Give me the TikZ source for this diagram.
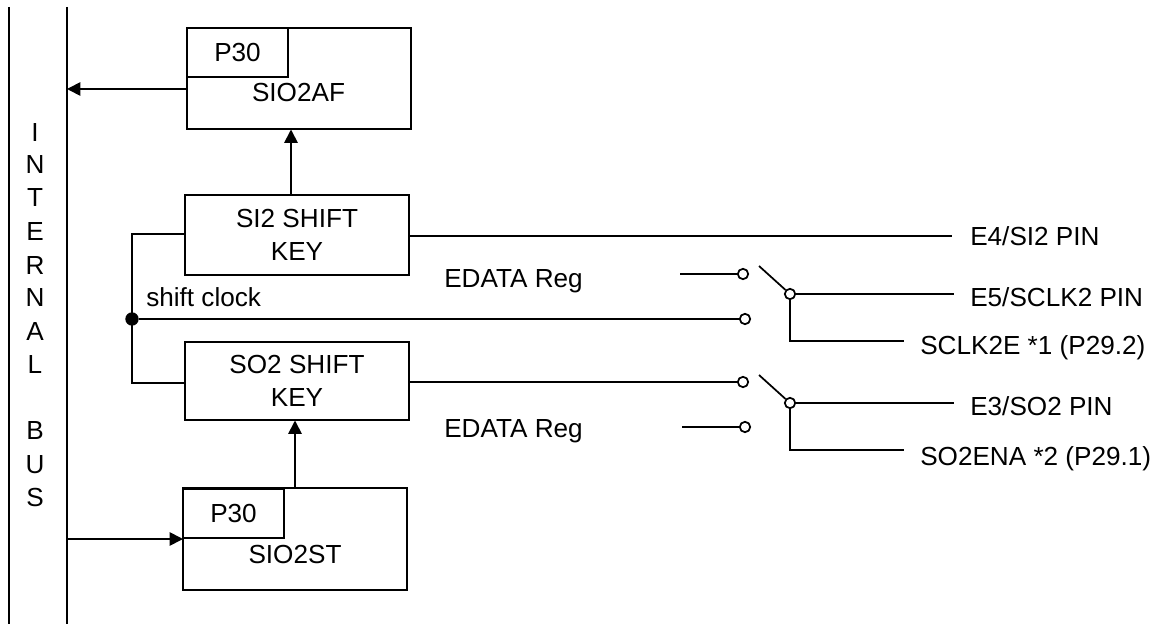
\documentclass[tikz,border=0pt]{standalone}
\usepackage{fontspec}
\setmainfont{Liberation Sans}
\usetikzlibrary{arrows.meta}
\tikzset{
  wire/.style={draw=black,line width=1.3pt},
  arrowwire/.style={wire,-{Triangle[length=10pt,width=10pt]}},
  boxnode/.style={draw=black,line width=1.3pt,inner sep=0pt,minimum width=168pt,align=center},
  tabnode/.style={draw=black,line width=1.3pt,inner sep=0pt,minimum width=75.75pt,minimum height=37pt},
  txt/.style={inner sep=0pt,font=\fontsize{19.6}{24.5}\selectfont,text=black},
  lbl/.style={txt,anchor=base west},
  term/.style={circle,draw=black,fill=white,line width=1.3pt,minimum size=7.8pt,inner sep=0pt},
  joint/.style={circle,fill=black,minimum size=10pt,inner sep=0pt}
}
\begin{document}
\begin{tikzpicture}[x=0.75pt,y=-0.75pt]
\useasboundingbox (0,0) rectangle (1168,624);
% bus
\coordinate (b1t) at (9,7); \coordinate (b1b) at (9,624);
\coordinate (b2t) at (67,7); \coordinate (b2b) at (67,624);
\draw[wire] (b1t) -- (b1b);
\draw[wire] (b2t) -- (b2b);
\foreach \ch/\yy/\nm in {I/133/a,N/165/b,T/198/c,E/232/d,R/266/e,N/298/f,A/332/g,L/365/h,B/431/i,U/465/j,S/498/k}
  \node[txt] (bus\nm) at (35,\yy) {\ch};
% boxes
\node[txt,boxnode,minimum height=75.75pt] (af) at (299,78.5) {};
\node[txt,tabnode] (afp) at (237.5,52.5) {P30};
\node[txt] (aft) at (298.5,93) {SIO2AF};
\node[txt,boxnode,minimum height=60pt] (si) at (297,235) {SI2 SHIFT\\KEY};
\node[txt,boxnode,minimum height=58pt] (so) at (297,381) {SO2 SHIFT\\KEY};
\node[txt,boxnode,minimum height=76pt] (st) at (295,539) {};
\node[txt,tabnode] (stp) at (233.5,513.5) {P30};
\node[txt] (stt) at (295,555) {SIO2ST};
% vertical and bus arrows
\coordinate (afw) at (187,89); \coordinate (b2a) at (67,89);
\draw[arrowwire] (afw) -- (b2a);
\coordinate (sin) at (291,195); \coordinate (afs) at (291,129.5);
\draw[arrowwire] (sin) -- (afs);
\coordinate (stn) at (295,488.5); \coordinate (sos) at (295,420.5);
\draw[arrowwire] (stn) -- (sos);
\coordinate (b2c) at (67,539); \coordinate (stw) at (183,539);
\draw[arrowwire] (b2c) -- (stw);
% clock
\coordinate (siw) at (185,234); \coordinate (sow) at (185,383);
\coordinate (ck1) at (132,234); \coordinate (ck2) at (132,383);
\draw[wire] (siw) -- (ck1) -- (ck2) -- (sow);
\node[joint] (dot) at (132,319) {};
\node[lbl] (sc) at (146,306) {shift clock};
% terminals
\node[term] (t1) at (743,274) {};
\node[term] (t2) at (745,319) {};
\node[term] (t3) at (743,382) {};
\node[term] (t4) at (745,427) {};
\node[term] (p1) at (790,294) {};
\node[term] (p2) at (790,403) {};
\coordinate (e1) at (680,274); \coordinate (e2) at (682,427);
\draw[wire] (e1) -- (t1);
\draw[wire] (e2) -- (t4);
\draw[wire] (dot) -- (t2);
\coordinate (soe) at (409,382);
\draw[wire] (soe) -- (t3);
\coordinate (s1) at (759,266); \coordinate (s2) at (759,375);
\draw[wire] (s1) -- (p1);
\draw[wire] (s2) -- (p2);
% outputs
\coordinate (sie) at (409,236); \coordinate (o1) at (952,236);
\draw[wire] (sie) -- (o1);
\coordinate (o2) at (954,294); \coordinate (o3) at (954,403);
\draw[wire] (p1) -- (o2);
\draw[wire] (p2) -- (o3);
\coordinate (c1) at (790,341); \coordinate (d1) at (904,341);
\coordinate (c2) at (790,450); \coordinate (d2) at (904,450);
\draw[wire] (p1) -- (c1) -- (d1);
\draw[wire] (p2) -- (c2) -- (d2);
% labels
\node[lbl] (l1) at (444,287) {EDATA Reg};
\node[lbl] (l2) at (444,437) {EDATA Reg};
\node[lbl] (l3) at (970,245.5) {E4/SI2 PIN};
\node[lbl] (l4) at (970,306) {E5/SCLK2 PIN};
\node[lbl] (l5) at (920,354) {SCLK2E *1 (P29.2)};
\node[lbl] (l6) at (970,415) {E3/SO2 PIN};
\node[lbl] (l7) at (920,465) {SO2ENA *2 (P29.1)};
\end{tikzpicture}
\end{document}
